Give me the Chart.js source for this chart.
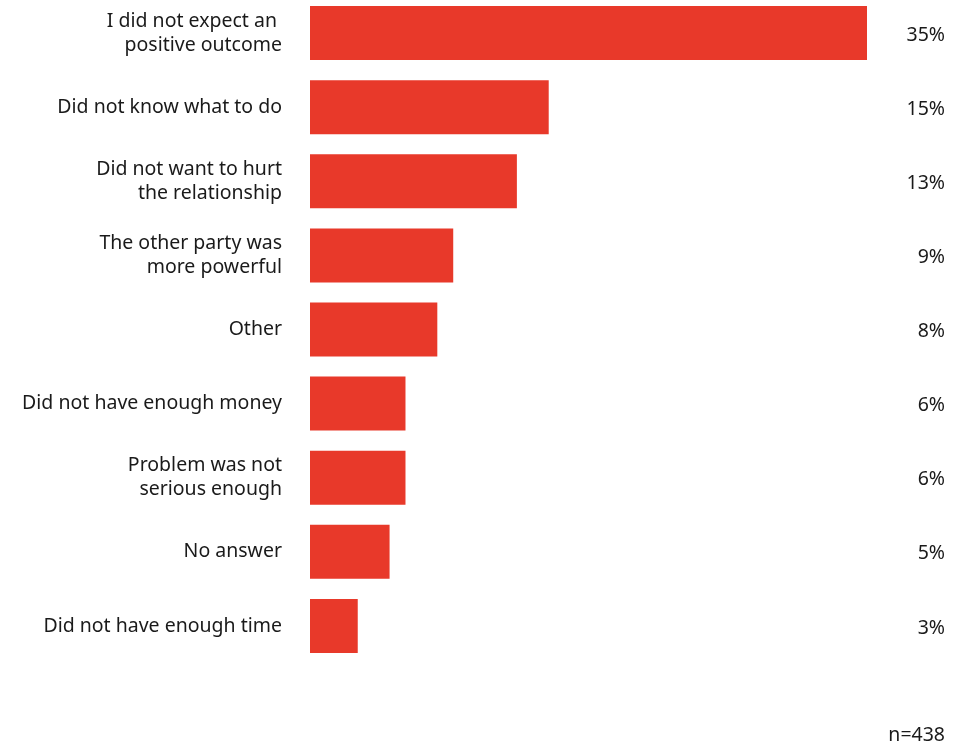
<!DOCTYPE html>
<html>
<head>
<meta charset="utf-8">
<style>
html,body{margin:0;padding:0;background:#fff;overflow:hidden;}
#wrap{width:971px;height:745px;position:relative;overflow:hidden;}
#c{position:absolute;left:0;top:-4px;}
</style>
<script src="https://cdn.jsdelivr.net/npm/chart.js@4/dist/chart.umd.min.js"></script>
</head>
<body>
<div id="wrap"><canvas id="c" width="971" height="749"></canvas></div>
<script>
const categories = [
  ["I did not expect an ", "positive outcome"],
  "Did not know what to do",
  ["Did not want to hurt", "the relationship"],
  ["The other party was", "more powerful"],
  "Other",
  "Did not have enough money",
  ["Problem was not", "serious enough"],
  "No answer",
  "Did not have enough time"
];
const values = [35, 15, 13, 9, 8, 6, 6, 5, 3];
const valueLabels = ["35%", "15%", "13%", "9%", "8%", "6%", "6%", "5%", "3%"];
const noteText = "n=438";

const FONT = "'Noto Sans', 'Open Sans', sans-serif";
const TEXT = "#1a1a1a";
const FS = 19.5;

const labelsPlugin = {
  id: 'valueLabels',
  afterDraw(chart) {
    const ctx = chart.ctx;
    const y = chart.scales.y;
    ctx.save();
    ctx.font = FS + "px " + FONT;
    ctx.fillStyle = TEXT;
    ctx.textAlign = 'right';
    ctx.textBaseline = 'middle';
    valueLabels.forEach((t, i) => {
      ctx.fillText(t, 945, y.getPixelForValue(i) + 2);
    });
    ctx.fillText(noteText, 945, 739);
    ctx.restore();
  }
};

new Chart(document.getElementById('c'), {
  type: 'bar',
  data: {
    labels: categories,
    datasets: [{
      data: values,
      backgroundColor: '#E8392A',
      borderWidth: 0,
      barPercentage: 0.729,
      categoryPercentage: 1.0
    }]
  },
  options: {
    indexAxis: 'y',
    responsive: false,
    animation: false,
    layout: { padding: { top: 0, bottom: 82, left: 0, right: 104 } },
    plugins: { legend: { display: false }, tooltip: { enabled: false } },
    scales: {
      x: {
        display: false,
        min: 0,
        max: 35
      },
      y: {
        grid: { display: false, drawTicks: false },
        border: { display: false },
        ticks: {
          padding: 28,
          color: TEXT,
          font: { family: FONT, size: FS, lineHeight: 24 / FS }
        },
        afterFit(axis) {
          axis.width = 310;
          axis.paddingTop = 0;
          axis.paddingBottom = 0;
        }
      }
    }
  },
  plugins: [labelsPlugin]
});
</script>
</body>
</html>
